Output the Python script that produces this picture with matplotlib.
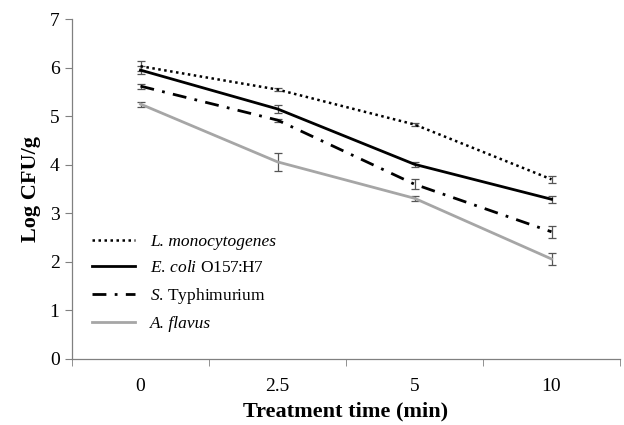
import matplotlib.pyplot as plt
import numpy as np

plt.rcParams['font.family'] = 'Liberation Serif'
plt.rcParams['mathtext.fontset'] = 'custom'
plt.rcParams['mathtext.rm'] = 'Liberation Serif'
plt.rcParams['mathtext.it'] = 'Liberation Serif:italic'

times = ['0', '2.5', '5', '10']
listeria = [6.03, 5.55, 4.83, 3.70]
listeria_err = [0.10, 0.03, 0.03, 0.07]
ecoli = [5.95, 5.15, 4.01, 3.29]
ecoli_err = [0.08, 0.08, 0.05, 0.07]
salmonella = [5.62, 4.92, 3.60, 2.62]
salmonella_err = [0.05, 0.03, 0.10, 0.12]
aflavus = [5.25, 4.06, 3.31, 2.06]
aflavus_err = [0.05, 0.18, 0.05, 0.13]

x = np.arange(len(times))

fig = plt.figure(figsize=(6.24, 4.25), dpi=100)
ax = fig.add_axes([0.1154, 0.1553, 0.8782, 0.7997])

ekw = dict(ecolor='#555555', elinewidth=0.9, capsize=3, capthick=0.9)
ax.errorbar(x, listeria, yerr=listeria_err, color='black', lw=1.8,
            linestyle=(0, (1, 1.4)), label='L. monocytogenes', **ekw)
ax.errorbar(x, ecoli, yerr=ecoli_err, color='black', lw=2.0,
            linestyle='-', label=r'$\mathit{E.\,coli}$ O157:H7', **ekw)
ax.errorbar(x, salmonella, yerr=salmonella_err, color='black', lw=2.0,
            linestyle=(0, (5, 3, 1, 3)), label=r'$\mathit{S}$. Typhimurium', **ekw)
ax.errorbar(x, aflavus, yerr=aflavus_err, color='#a6a6a6', lw=2.0,
            linestyle='-', label='A. flavus', **ekw)

ax.set_xlim(-0.5, 3.5)
ax.set_ylim(0, 7)
ax.set_xticks(x)
ax.set_xticklabels(times)
ax.set_xticks(np.arange(-0.5, 4, 1), minor=True)
ax.tick_params(axis='x', which='major', length=0, pad=14, labelsize=14)
ax.tick_params(axis='x', which='minor', length=5, color='#808080', direction='out')
ax.tick_params(axis='y', length=5, color='#808080', labelsize=14, pad=4)
ax.set_yticks(range(8))

for s in ['top', 'right']:
    ax.spines[s].set_visible(False)
for s in ['left', 'bottom']:
    ax.spines[s].set_color('#808080')
    ax.spines[s].set_linewidth(0.9)

ax.set_xlabel('Treatment time (min)', fontsize=16, fontweight='bold', labelpad=4)
ax.set_ylabel('Log CFU/g', fontsize=16, fontweight='bold', labelpad=6)

handles, labels = ax.get_legend_handles_labels()
handles = [h[0] for h in handles]
leg = ax.legend(handles, labels, loc='upper left', bbox_to_anchor=(0.008, 0.415),
                frameon=False, fontsize=12.5, handlelength=2.5, handletextpad=0.85,
                labelspacing=0.58)
for t in leg.get_texts():
    if t.get_text() in ('L. monocytogenes', 'A. flavus'):
        t.set_fontstyle('italic')

fig.savefig('out.png', dpi=100)
